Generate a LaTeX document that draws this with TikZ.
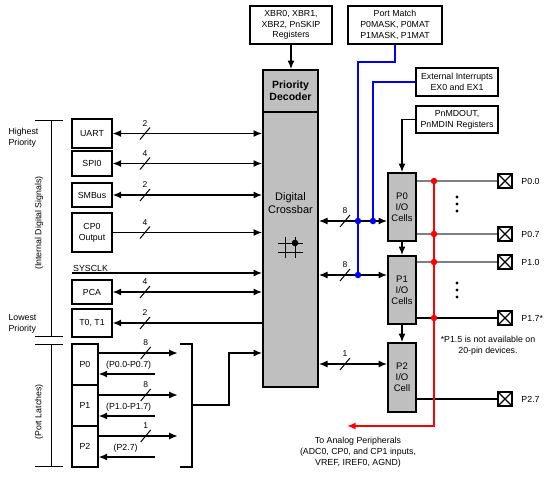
\documentclass[tikz,border=0pt]{standalone}
\usepackage{fontspec}
\setmainfont{Liberation Sans}
\usetikzlibrary{arrows.meta,calc}

\begin{document}
\begin{tikzpicture}[
      x=1pt, y=1pt,
      >={Latex[length=8.5pt,width=7pt]},
      every node/.style = {
        font=\fontsize{8.8}{10.8}\selectfont,
        align=center
      },
      blk/.style = {
        draw,
        line width=1.3pt,
        fill=white,
        inner sep=1pt
      },
      gblk/.style = {
        draw,
        line width=2pt,
        fill=black!25,
        inner sep=0pt
      },
      iocell/.style = {
        gblk,
        minimum width=28pt,
        minimum height=68pt,
        font=\fontsize{9.5}{11}\selectfont
      },
      pad/.style = {
        draw,
        line width=1.9pt,
        minimum size=14pt,
        inner sep=0pt,
        path picture={
          \draw[line width=1.3pt]
            (path picture bounding box.south west) -- (path picture bounding box.north east)
            (path picture bounding box.north west) -- (path picture bounding box.south east);
        }
      },
      dot/.style = {
        circle,
        fill,
        inner sep=0pt,
        minimum size=6.5pt
      },
      arc/.style = {
        ->,
        line width=1.2pt
      },
      barc/.style = {
        <->,
        line width=1.2pt
      },
      bus/.style = {
        line width=1.8pt,
        draw=#1
      },
      pics/bw/.style = {
        code = {
          \draw[line width=1pt] (-5,-6) -- (5,6);
          \node[inner sep=0pt, font=\fontsize{8.5}{9}\selectfont] at (0,10) {#1};
        }
      }
    ]
    \useasboundingbox (0,0) rectangle (553,-477);

    % register boxes on top
    \node[blk, minimum width=82pt, minimum height=38pt] (xbrreg) at (291,-25) {XBR0, XBR1,\\XBR2, PnSKIP\\Registers};
    \node[blk, minimum width=94pt, minimum height=38pt] (pmatch) at (395,-25) {Port Match\\P0MASK, P0MAT\\P1MASK, P1MAT};
    \node[blk, minimum width=82pt, minimum height=28pt] (extint) at (457,-82) {External Interrupts\\EX0 and EX1};
    \node[blk, minimum width=82pt, minimum height=27pt] (mdout) at (457,-119.5) {PnMDOUT,\\PnMDIN Registers};

    % crossbar
    \node[gblk, minimum width=55pt, minimum height=317pt] (xbar) at (290.5,-228.5) {};
    \node[gblk, minimum width=55pt, minimum height=42pt,
          font=\fontsize{10.5}{12}\selectfont\bfseries] (dec) at (290.5,-91) {Priority\\Decoder};
    \node[font=\fontsize{11}{12.5}\selectfont] (xbtxt) at (290.5,-203) {Digital\\Crossbar};
    \draw[line width=0.9pt] (278,-243) -- (303,-243) (278,-252) -- (303,-252)
                            (285,-237) -- (285,-258) (295,-237) -- (295,-258);
    \fill (295,-243) circle (3.3);
    \draw[arc] (xbrreg.south) -- (xbrreg.south |- dec.north);

    % peripherals
    \node[blk, minimum width=40pt, minimum height=29pt] (uart) at (92,-133.5) {UART};
    \node[blk, minimum width=40pt, minimum height=25pt] (spi) at (92,-163.5) {SPI0};
    \node[blk, minimum width=40pt, minimum height=24pt] (smb) at (92,-195) {SMBus};
    \node[blk, minimum width=40pt, minimum height=39pt] (cmp) at (92,-232.5) {CP0\\Output};
    \node[blk, minimum width=40pt, minimum height=24pt] (pca) at (92,-292) {PCA};
    \node[blk, minimum width=40pt, minimum height=28pt] (tmr) at (92,-323) {T0, T1};
    \coordinate (clk) at (72,-273);

    \draw[barc] (uart.east) -- (uart.east -| xbar.west);
    \draw[barc] (spi.east) -- (spi.east -| xbar.west);
    \draw[barc] (smb.east) -- (smb.east -| xbar.west);
    \draw[arc] (cmp.east) -- (cmp.east -| xbar.west);
    \draw[arc] (clk) -- (clk -| xbar.west);
    \node[anchor=south west, inner sep=1pt] at (clk) {SYSCLK};
    \draw[barc] (pca.east) -- (pca.east -| xbar.west);
    \draw[arc] (tmr.east -| xbar.west) -- (tmr.east);
    \pic at (145,-133.5) {bw=2};
    \pic at (145,-163.5) {bw=4};
    \pic at (145,-195) {bw=2};
    \pic at (145,-232.5) {bw=4};
    \pic at (145,-292) {bw=4};
    \pic at (145,-323) {bw=2};

    \node[align=left, anchor=west] at (5,-138) {Highest\\Priority};
    \node[align=left, anchor=west] at (5,-324) {Lowest\\Priority};
    \draw[line width=0.8pt] (35,-120) -- (63,-120) (51,-120) -- (51,-336) (35,-336) -- (63,-336);
    \node[rotate=90] at (39,-223) {(Internal Digital Signals)};

    % port latches
    \node[blk, minimum width=26pt, minimum height=41pt] (lp0) at (85,-364.5) {P0};
    \node[blk, minimum width=26pt, minimum height=41pt] (lp1) at (85,-405.5) {P1};
    \node[blk, minimum width=26pt, minimum height=41pt] (lp2) at (85,-446.5) {P2};
    \draw[line width=0.8pt] (35,-344) -- (63,-344) (51,-344) -- (51,-466) (35,-466) -- (63,-466);
    \node[rotate=90] at (39,-412) {(Port Latches)};

    \draw[arc] ($(lp0.east)+(0,11.5)$) -- ++(79,0);
    \draw[arc] ($(lp0.east)+(56,-9.5)$) -- ++(-56,0);
    \node at ($(lp0.east)+(30,-0.5)$) {(P0.0-P0.7)};
    \pic at ($(lp0.east)+(47,11.5)$) {bw=8};
    \draw[arc] ($(lp1.east)+(0,10.5)$) -- ++(79,0);
    \draw[arc] ($(lp1.east)+(56,-10.5)$) -- ++(-56,0);
    \node at ($(lp1.east)+(30,-1.5)$) {(P1.0-P1.7)};
    \pic at ($(lp1.east)+(47,10.5)$) {bw=8};
    \draw[arc] ($(lp2.east)+(0,10.5)$) -- ++(79,0);
    \draw[arc] ($(lp2.east)+(56,-10.5)$) -- ++(-56,0);
    \node at ($(lp2.east)+(27,-1.5)$) {(P2.7)};
    \pic at ($(lp2.east)+(47,10.5)$) {bw=1};

    \coordinate (mux) at (192,-405);
    \draw[line width=1.2pt] (180,-344) -- (192,-344) -- (192,-467) -- (180,-467);
    \draw[arc] (mux) -- (229,-405) -- (229,-353) -- (xbar.west |- 0,-353);

    % I/O cells
    \node[iocell] (io0) at (402,-207) {P0\\I/O\\Cells};
    \node[iocell] (io1) at (402,-290) {P1\\I/O\\Cells};
    \node[iocell, minimum height=69pt] (io2) at (402,-377.5) {P2\\I/O\\Cell};
    \draw[arc] (io0) -- (io1);
    \draw[arc] (io1) -- (io2);
    \draw[arc] (mdout.west) -| (io0.north);

    \draw[barc] (xbar.east |- 0,-221) -- (io0.west |- 0,-221);
    \draw[barc] (xbar.east |- 0,-275) -- (io1.west |- 0,-275);
    \draw[barc] (xbar.east |- 0,-364) -- (io2.west |- 0,-364);
    \pic at (345,-221) {bw=8};
    \pic at (345,-275) {bw=8};
    \pic at (345,-364) {bw=1};

    % port match / interrupts
    \coordinate (bj0) at (358,-221);
    \coordinate (bj1) at (358,-275);
    \coordinate (bj2) at (373,-221);
    \draw[bus=blue] (pmatch.south) -- (395,-62) -- (358,-62) -- (bj1);
    \draw[bus=blue] (extint.west) -- (373,-82) -- (bj2);
    \node[dot, blue] at (bj0) {};
    \node[dot, blue] at (bj1) {};
    \node[dot, blue] at (bj2) {};

    % pins
    \node[pad, label={[label distance=5pt]right:P0.0}] (p00) at (505,-181) {};
    \node[pad, label={[label distance=5pt]right:P0.7}] (p07) at (505,-234) {};
    \node[pad, label={[label distance=5pt]right:P1.0}] (p10) at (505,-262) {};
    \node[pad, label={[label distance=5pt]right:P1.7*}] (p17) at (505,-318) {};
    \node[pad, label={[label distance=5pt]right:P2.7}] (p27) at (505,-399) {};
    \draw[gray, line width=1.1pt] (io0.east |- p00) -- (p00);
    \draw[gray, line width=1.1pt] (io0.east |- p07) -- (p07);
    \draw[gray, line width=1.1pt] (io1.east |- p10) -- (p10);
    \draw[line width=1.1pt] (io1.east |- p17) -- (p17);
    \draw[line width=1.1pt] (io2.east |- p27) -- (p27);

    \coordinate (an) at (347,-426);
    \draw[bus=red, ->] (434,-181) -- (434,-426) -- (an);
    \foreach \ypos in {181, 234, 262, 318} {
      \node[dot, red] at (434,-\ypos) {};
    }
    \foreach \ypos in {197, 204, 211, 283, 290, 297} {
      \fill (457,-\ypos) circle (1.7);
    }

    \node at (488,-345.5) {*P1.5 is not available on\\20-pin devices.};
    \node at (358,-452) {To Analog Peripherals\\(ADC0, CP0, and CP1 inputs,\\VREF, IREF0, AGND)};
  \end{tikzpicture}
\end{document}
